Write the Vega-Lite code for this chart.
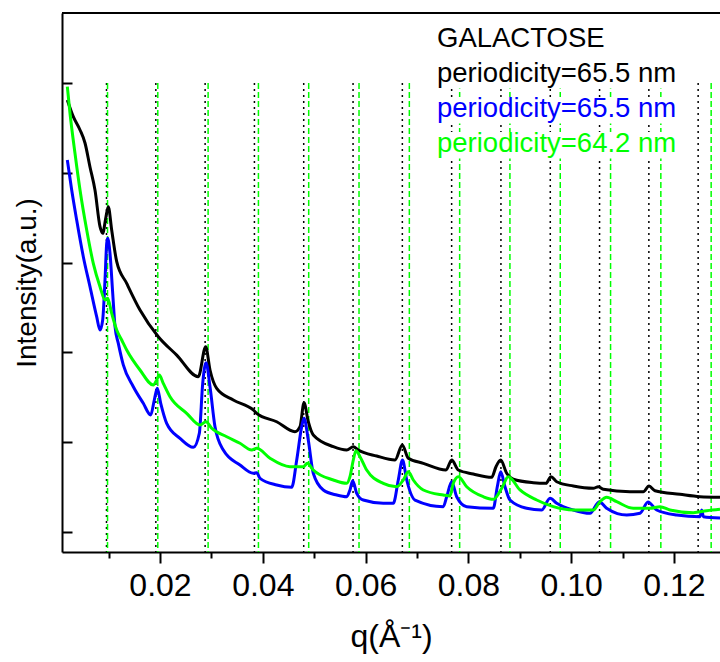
{
  "$schema": "https://vega.github.io/schema/vega-lite/v6.json",
  "width": 658,
  "height": 539,
  "autosize": {"type": "none"},
  "padding": {"left": 62, "top": 13, "right": 0, "bottom": 110},
  "background": "white",
  "config": {"view": {"stroke": null}, "font": "Liberation Sans"},
  "datasets": {
    "vlines": [
      {"s": "black", "q": 0.00959}, {"s": "black", "q": 0.01919}, {"s": "black", "q": 0.02878}, {"s": "black", "q": 0.03837},
      {"s": "black", "q": 0.04796}, {"s": "black", "q": 0.05756}, {"s": "black", "q": 0.06715}, {"s": "black", "q": 0.07674},
      {"s": "black", "q": 0.08633}, {"s": "black", "q": 0.09593}, {"s": "black", "q": 0.10552}, {"s": "black", "q": 0.11511},
      {"s": "black", "q": 0.1247},
      {"s": "green", "q": 0.00979}, {"s": "green", "q": 0.01957}, {"s": "green", "q": 0.02936}, {"s": "green", "q": 0.03915},
      {"s": "green", "q": 0.04893}, {"s": "green", "q": 0.05872}, {"s": "green", "q": 0.06851}, {"s": "green", "q": 0.0783},
      {"s": "green", "q": 0.08808}, {"s": "green", "q": 0.09787}, {"s": "green", "q": 0.10766}, {"s": "green", "q": 0.11744},
      {"s": "green", "q": 0.12723}
    ],
    "curves": [
      {"s": "black", "q": 0.00197, "v": 4.811}, {"s": "black", "q": 0.00313, "v": 4.625}, {"s": "black", "q": 0.00444, "v": 4.477},
      {"s": "black", "q": 0.00541, "v": 4.332}, {"s": "black", "q": 0.00638, "v": 4.065}, {"s": "black", "q": 0.00735, "v": 3.808},
      {"s": "black", "q": 0.00833, "v": 3.4}, {"s": "black", "q": 0.00885, "v": 3.326}, {"s": "black", "q": 0.00949, "v": 3.511},
      {"s": "black", "q": 0.00994, "v": 3.623}, {"s": "black", "q": 0.0106, "v": 3.363}, {"s": "black", "q": 0.01158, "v": 3.01},
      {"s": "black", "q": 0.01352, "v": 2.769}, {"s": "black", "q": 0.01611, "v": 2.472}, {"s": "black", "q": 0.01967, "v": 2.175},
      {"s": "black", "q": 0.02325, "v": 1.97}, {"s": "black", "q": 0.02745, "v": 1.729}, {"s": "black", "q": 0.02889, "v": 2.063},
      {"s": "black", "q": 0.02973, "v": 1.804}, {"s": "black", "q": 0.03103, "v": 1.6}, {"s": "black", "q": 0.03426, "v": 1.47},
      {"s": "black", "q": 0.03815, "v": 1.359}, {"s": "black", "q": 0.03881, "v": 1.322}, {"s": "black", "q": 0.0427, "v": 1.228},
      {"s": "black", "q": 0.04626, "v": 1.117}, {"s": "black", "q": 0.04724, "v": 1.173}, {"s": "black", "q": 0.04802, "v": 1.44},
      {"s": "black", "q": 0.04885, "v": 1.228}, {"s": "black", "q": 0.04982, "v": 1.08}, {"s": "black", "q": 0.05372, "v": 0.95},
      {"s": "black", "q": 0.05632, "v": 0.913}, {"s": "black", "q": 0.05761, "v": 0.95}, {"s": "black", "q": 0.05858, "v": 0.913},
      {"s": "black", "q": 0.06216, "v": 0.846}, {"s": "black", "q": 0.06572, "v": 0.802}, {"s": "black", "q": 0.06714, "v": 0.969},
      {"s": "black", "q": 0.06831, "v": 0.821}, {"s": "black", "q": 0.07123, "v": 0.765}, {"s": "black", "q": 0.07564, "v": 0.69},
      {"s": "black", "q": 0.07675, "v": 0.802}, {"s": "black", "q": 0.07804, "v": 0.69}, {"s": "black", "q": 0.08095, "v": 0.646},
      {"s": "black", "q": 0.08453, "v": 0.609}, {"s": "black", "q": 0.08537, "v": 0.727}, {"s": "black", "q": 0.08628, "v": 0.802},
      {"s": "black", "q": 0.08745, "v": 0.654}, {"s": "black", "q": 0.08874, "v": 0.587}, {"s": "black", "q": 0.09263, "v": 0.549},
      {"s": "black", "q": 0.0951, "v": 0.542}, {"s": "black", "q": 0.09607, "v": 0.616}, {"s": "black", "q": 0.09718, "v": 0.56},
      {"s": "black", "q": 0.10041, "v": 0.512}, {"s": "black", "q": 0.1043, "v": 0.487}, {"s": "black", "q": 0.10527, "v": 0.504},
      {"s": "black", "q": 0.10624, "v": 0.476}, {"s": "black", "q": 0.11144, "v": 0.449}, {"s": "black", "q": 0.11403, "v": 0.449},
      {"s": "black", "q": 0.11514, "v": 0.512}, {"s": "black", "q": 0.1163, "v": 0.46}, {"s": "black", "q": 0.12117, "v": 0.42},
      {"s": "black", "q": 0.12506, "v": 0.393}, {"s": "black", "q": 0.12895, "v": 0.386},

      {"s": "blue", "q": 0.00197, "v": 4.143}, {"s": "blue", "q": 0.00282, "v": 3.808}, {"s": "blue", "q": 0.00379, "v": 3.474},
      {"s": "blue", "q": 0.00508, "v": 3.066}, {"s": "blue", "q": 0.00638, "v": 2.732}, {"s": "blue", "q": 0.00768, "v": 2.398},
      {"s": "blue", "q": 0.00833, "v": 2.249}, {"s": "blue", "q": 0.00885, "v": 2.361}, {"s": "blue", "q": 0.0093, "v": 2.806},
      {"s": "blue", "q": 0.00963, "v": 3.215}, {"s": "blue", "q": 0.00982, "v": 3.271}, {"s": "blue", "q": 0.01027, "v": 3.104},
      {"s": "blue", "q": 0.0108, "v": 2.658}, {"s": "blue", "q": 0.01125, "v": 2.286}, {"s": "blue", "q": 0.01189, "v": 2.1},
      {"s": "blue", "q": 0.01286, "v": 1.86}, {"s": "blue", "q": 0.01481, "v": 1.618}, {"s": "blue", "q": 0.01675, "v": 1.433},
      {"s": "blue", "q": 0.01819, "v": 1.303}, {"s": "blue", "q": 0.01889, "v": 1.47}, {"s": "blue", "q": 0.01947, "v": 1.6},
      {"s": "blue", "q": 0.02014, "v": 1.433}, {"s": "blue", "q": 0.0213, "v": 1.21}, {"s": "blue", "q": 0.02389, "v": 1.043},
      {"s": "blue", "q": 0.02648, "v": 0.943}, {"s": "blue", "q": 0.02765, "v": 1.099}, {"s": "blue", "q": 0.02831, "v": 1.656},
      {"s": "blue", "q": 0.02895, "v": 1.885}, {"s": "blue", "q": 0.02973, "v": 1.618}, {"s": "blue", "q": 0.0307, "v": 1.173},
      {"s": "blue", "q": 0.03232, "v": 0.913}, {"s": "blue", "q": 0.03556, "v": 0.746}, {"s": "blue", "q": 0.03815, "v": 0.654},
      {"s": "blue", "q": 0.03881, "v": 0.66}, {"s": "blue", "q": 0.03946, "v": 0.598}, {"s": "blue", "q": 0.0427, "v": 0.523},
      {"s": "blue", "q": 0.04562, "v": 0.498}, {"s": "blue", "q": 0.0466, "v": 0.802}, {"s": "blue", "q": 0.04757, "v": 1.173},
      {"s": "blue", "q": 0.04802, "v": 1.266}, {"s": "blue", "q": 0.04885, "v": 1.024}, {"s": "blue", "q": 0.04982, "v": 0.654},
      {"s": "blue", "q": 0.05177, "v": 0.468}, {"s": "blue", "q": 0.05438, "v": 0.412}, {"s": "blue", "q": 0.05632, "v": 0.393},
      {"s": "blue", "q": 0.05696, "v": 0.468}, {"s": "blue", "q": 0.05749, "v": 0.571}, {"s": "blue", "q": 0.05827, "v": 0.431},
      {"s": "blue", "q": 0.05955, "v": 0.356}, {"s": "blue", "q": 0.06344, "v": 0.32}, {"s": "blue", "q": 0.06539, "v": 0.32},
      {"s": "blue", "q": 0.06636, "v": 0.579}, {"s": "blue", "q": 0.06718, "v": 0.802}, {"s": "blue", "q": 0.068, "v": 0.579},
      {"s": "blue", "q": 0.06961, "v": 0.356}, {"s": "blue", "q": 0.07512, "v": 0.282}, {"s": "blue", "q": 0.07578, "v": 0.393},
      {"s": "blue", "q": 0.07675, "v": 0.56}, {"s": "blue", "q": 0.07772, "v": 0.393}, {"s": "blue", "q": 0.07967, "v": 0.282},
      {"s": "blue", "q": 0.08484, "v": 0.264}, {"s": "blue", "q": 0.08562, "v": 0.504}, {"s": "blue", "q": 0.08628, "v": 0.671},
      {"s": "blue", "q": 0.08712, "v": 0.504}, {"s": "blue", "q": 0.08809, "v": 0.356}, {"s": "blue", "q": 0.09134, "v": 0.264},
      {"s": "blue", "q": 0.09426, "v": 0.245}, {"s": "blue", "q": 0.09588, "v": 0.375}, {"s": "blue", "q": 0.09718, "v": 0.32},
      {"s": "blue", "q": 0.10041, "v": 0.245}, {"s": "blue", "q": 0.10366, "v": 0.208}, {"s": "blue", "q": 0.10547, "v": 0.337},
      {"s": "blue", "q": 0.1069, "v": 0.264}, {"s": "blue", "q": 0.1108, "v": 0.189}, {"s": "blue", "q": 0.11339, "v": 0.208},
      {"s": "blue", "q": 0.11494, "v": 0.334}, {"s": "blue", "q": 0.11663, "v": 0.245}, {"s": "blue", "q": 0.12053, "v": 0.189},
      {"s": "blue", "q": 0.12506, "v": 0.17}, {"s": "blue", "q": 0.12539, "v": 0.245}, {"s": "blue", "q": 0.12572, "v": 0.17},
      {"s": "blue", "q": 0.12895, "v": 0.156},

      {"s": "green", "q": 0.00197, "v": 4.959}, {"s": "green", "q": 0.00249, "v": 4.663}, {"s": "green", "q": 0.00346, "v": 4.217},
      {"s": "green", "q": 0.00444, "v": 3.808}, {"s": "green", "q": 0.00574, "v": 3.363}, {"s": "green", "q": 0.00702, "v": 2.992},
      {"s": "green", "q": 0.00833, "v": 2.732}, {"s": "green", "q": 0.0093, "v": 2.584}, {"s": "green", "q": 0.00982, "v": 2.602},
      {"s": "green", "q": 0.0106, "v": 2.435}, {"s": "green", "q": 0.01158, "v": 2.249}, {"s": "green", "q": 0.01255, "v": 2.138},
      {"s": "green", "q": 0.01352, "v": 2.027}, {"s": "green", "q": 0.01611, "v": 1.804}, {"s": "green", "q": 0.0187, "v": 1.637},
      {"s": "green", "q": 0.01936, "v": 1.693}, {"s": "green", "q": 0.01986, "v": 1.748}, {"s": "green", "q": 0.02064, "v": 1.656},
      {"s": "green", "q": 0.02195, "v": 1.507}, {"s": "green", "q": 0.02519, "v": 1.322}, {"s": "green", "q": 0.02778, "v": 1.192},
      {"s": "green", "q": 0.02895, "v": 1.228}, {"s": "green", "q": 0.03006, "v": 1.155}, {"s": "green", "q": 0.03298, "v": 1.061},
      {"s": "green", "q": 0.03556, "v": 0.988}, {"s": "green", "q": 0.03784, "v": 0.913}, {"s": "green", "q": 0.03881, "v": 0.932},
      {"s": "green", "q": 0.0414, "v": 0.821}, {"s": "green", "q": 0.04529, "v": 0.727}, {"s": "green", "q": 0.04788, "v": 0.727},
      {"s": "green", "q": 0.04866, "v": 0.765}, {"s": "green", "q": 0.04982, "v": 0.69}, {"s": "green", "q": 0.05372, "v": 0.579},
      {"s": "green", "q": 0.05632, "v": 0.542}, {"s": "green", "q": 0.05696, "v": 0.616}, {"s": "green", "q": 0.05761, "v": 0.802},
      {"s": "green", "q": 0.05813, "v": 0.905}, {"s": "green", "q": 0.05891, "v": 0.839}, {"s": "green", "q": 0.06021, "v": 0.69},
      {"s": "green", "q": 0.06344, "v": 0.542}, {"s": "green", "q": 0.06605, "v": 0.504}, {"s": "green", "q": 0.06733, "v": 0.579},
      {"s": "green", "q": 0.06831, "v": 0.671}, {"s": "green", "q": 0.06928, "v": 0.579}, {"s": "green", "q": 0.07123, "v": 0.468},
      {"s": "green", "q": 0.07512, "v": 0.412}, {"s": "green", "q": 0.07642, "v": 0.401}, {"s": "green", "q": 0.07706, "v": 0.542},
      {"s": "green", "q": 0.07804, "v": 0.616}, {"s": "green", "q": 0.07967, "v": 0.504}, {"s": "green", "q": 0.0829, "v": 0.393},
      {"s": "green", "q": 0.08484, "v": 0.364}, {"s": "green", "q": 0.08648, "v": 0.487}, {"s": "green", "q": 0.08776, "v": 0.616},
      {"s": "green", "q": 0.09004, "v": 0.468}, {"s": "green", "q": 0.09329, "v": 0.356}, {"s": "green", "q": 0.09652, "v": 0.282},
      {"s": "green", "q": 0.10041, "v": 0.245}, {"s": "green", "q": 0.1043, "v": 0.245}, {"s": "green", "q": 0.1056, "v": 0.337},
      {"s": "green", "q": 0.1069, "v": 0.386}, {"s": "green", "q": 0.10885, "v": 0.337}, {"s": "green", "q": 0.11208, "v": 0.264},
      {"s": "green", "q": 0.11533, "v": 0.264}, {"s": "green", "q": 0.11728, "v": 0.282}, {"s": "green", "q": 0.11922, "v": 0.245},
      {"s": "green", "q": 0.12375, "v": 0.215}, {"s": "green", "q": 0.12636, "v": 0.237}, {"s": "green", "q": 0.12895, "v": 0.253}
    ]
  },
  "layer": [
    {
      "data": {"name": "vlines"},
      "mark": {"type": "rule", "strokeWidth": 1.5},
      "encoding": {
        "x": {
          "field": "q", "type": "quantitative",
          "scale": {"domain": [0.000934, 0.12895], "nice": false, "zero": false},
          "axis": {
            "values": [0.01, 0.02, 0.03, 0.04, 0.05, 0.06, 0.07, 0.08, 0.09, 0.1, 0.11, 0.12],
            "labelExpr": "round(datum.value*100) % 2 == 1 ? '' : format(datum.value, '.2f')",
            "tickSize": {"condition": {"test": "round(datum.value*100) % 2 == 1", "value": 6}, "value": 11},
            "tickWidth": 2, "tickColor": "black", "domainColor": "black", "domainWidth": 2,
            "labelFontSize": 32, "labelColor": "black", "labelFont": "Liberation Sans", "labelPadding": 7,
            "labelFlush": false, "labelOverlap": false, "grid": false,
            "title": "q(Å⁻¹)", "titleFontSize": 32, "titleFontWeight": "normal", "titleColor": "black",
            "titleFont": "Liberation Sans", "titlePadding": 20
          }
        },
        "y": {
          "datum": 5, "type": "quantitative",
          "scale": {"domain": [-0.2227, 5.7795], "nice": false, "zero": false},
          "axis": {
            "values": [0, 1, 2, 3, 4, 5], "labels": false, "tickSize": -10, "tickWidth": 2, "tickColor": "black",
            "domainColor": "black", "domainWidth": 2, "grid": false,
            "title": "Intensity(a.u.)", "titleFontSize": 28, "titleFontWeight": "normal", "titleColor": "black",
            "titleFont": "Liberation Sans", "titlePadding": 20
          }
        },
        "y2": {"datum": -0.2227},
        "color": {"field": "s", "type": "nominal", "scale": {"domain": ["black", "blue", "green"], "range": ["#000000", "#0000ff", "#00ff00"]}, "legend": null},
        "strokeDash": {"field": "s", "type": "nominal", "scale": {"domain": ["black", "green"], "range": [[2, 4], [6, 3]]}, "legend": null}
      }
    },
    {
      "data": {"name": "curves"},
      "mark": {"type": "line", "strokeWidth": 3, "interpolate": "monotone"},
      "encoding": {
        "x": {"field": "q", "type": "quantitative"},
        "y": {"field": "v", "type": "quantitative"},
        "color": {"field": "s", "type": "nominal", "legend": null}
      }
    },
    {
      "data": {"values": [{"edge": "top"}]},
      "mark": {"type": "rule", "strokeWidth": 2, "color": "black"},
      "encoding": {"y": {"datum": 5.7795, "type": "quantitative"}}
    },
    {
      "data": {"values": [{"box": "row2"}]},
      "mark": {"type": "rect", "color": "white"},
      "encoding": {
        "x": {"datum": 0.0737, "type": "quantitative"}, "x2": {"datum": 0.1208},
        "y": {"datum": 5.234, "type": "quantitative"}, "y2": {"datum": 4.94}
      }
    },
    {
      "data": {"values": [{"box": "row3"}]},
      "mark": {"type": "rect", "color": "white"},
      "encoding": {
        "x": {"datum": 0.0737, "type": "quantitative"}, "x2": {"datum": 0.1208},
        "y": {"datum": 4.844, "type": "quantitative"}, "y2": {"datum": 4.55}
      }
    },
    {
      "data": {"values": [{"box": "row4"}]},
      "mark": {"type": "rect", "color": "white"},
      "encoding": {
        "x": {"datum": 0.0737, "type": "quantitative"}, "x2": {"datum": 0.1208},
        "y": {"datum": 4.454, "type": "quantitative"}, "y2": {"datum": 4.16}
      }
    },
    {
      "data": {"values": [{"t": "GALACTOSE", "s": "black"}]},
      "mark": {"type": "text", "align": "left", "baseline": "alphabetic", "fontSize": 27.5, "font": "Liberation Sans"},
      "encoding": {
        "x": {"datum": 0.07389, "type": "quantitative"},
        "y": {"datum": 5.404, "type": "quantitative"},
        "text": {"field": "t", "type": "nominal"},
        "color": {"field": "s", "type": "nominal", "legend": null}
      }
    },
    {
      "data": {"values": [{"t": "periodicity=65.5 nm", "s": "black"}]},
      "mark": {"type": "text", "align": "left", "baseline": "alphabetic", "fontSize": 27.5, "font": "Liberation Sans"},
      "encoding": {
        "x": {"datum": 0.07389, "type": "quantitative"},
        "y": {"datum": 5.015, "type": "quantitative"},
        "text": {"field": "t", "type": "nominal"},
        "color": {"field": "s", "type": "nominal", "legend": null}
      }
    },
    {
      "data": {"values": [{"t": "periodicity=65.5 nm", "s": "blue"}]},
      "mark": {"type": "text", "align": "left", "baseline": "alphabetic", "fontSize": 27.5, "font": "Liberation Sans"},
      "encoding": {
        "x": {"datum": 0.07389, "type": "quantitative"},
        "y": {"datum": 4.625, "type": "quantitative"},
        "text": {"field": "t", "type": "nominal"},
        "color": {"field": "s", "type": "nominal", "legend": null}
      }
    },
    {
      "data": {"values": [{"t": "periodicity=64.2 nm", "s": "green"}]},
      "mark": {"type": "text", "align": "left", "baseline": "alphabetic", "fontSize": 27.5, "font": "Liberation Sans"},
      "encoding": {
        "x": {"datum": 0.07389, "type": "quantitative"},
        "y": {"datum": 4.235, "type": "quantitative"},
        "text": {"field": "t", "type": "nominal"},
        "color": {"field": "s", "type": "nominal", "legend": null}
      }
    }
  ]
}
